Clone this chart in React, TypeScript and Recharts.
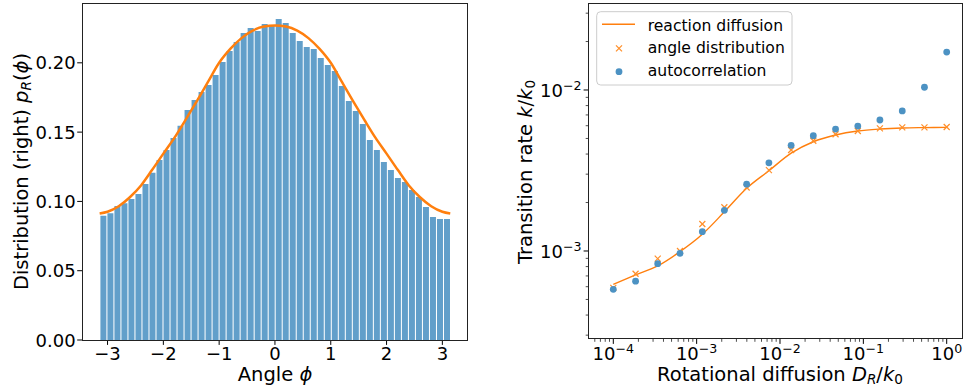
import { ComposedChart, Bar, Line, Scatter, XAxis, YAxis } from "recharts";

const FONT = '"DejaVu Sans", sans-serif';
const BLUE_BAR = "#629fca";
const ORANGE = "#ff7f0e";
const BLUE_DOT = "#4c92c3";

// left panel: histogram of the angle (50 bins over -pi..pi) and the fitted distribution
const binCenters = [
  -3.0788, -2.9531, -2.8274, -2.7018, -2.5761, -2.4504, -2.3248, -2.1991, -2.0735, -1.9478,
  -1.8221, -1.6965, -1.5708, -1.4451, -1.3195, -1.1938, -1.0681, -0.9425, -0.8168, -0.6912,
  -0.5655, -0.4398, -0.3142, -0.1885, -0.0628, 0.0628, 0.1885, 0.3142, 0.4398, 0.5655,
  0.6912, 0.8168, 0.9425, 1.0681, 1.1938, 1.3195, 1.4451, 1.5708, 1.6965, 1.8221,
  1.9478, 2.0735, 2.1991, 2.3248, 2.4504, 2.5761, 2.7018, 2.8274, 2.9531, 3.0788,
];
const binHeights = [
  0.0897, 0.0914, 0.0967, 0.0986, 0.1017, 0.1053, 0.1126, 0.1207, 0.1299, 0.1371,
  0.1457, 0.1546, 0.1659, 0.1732, 0.1789, 0.184, 0.1912, 0.2006, 0.2085, 0.215,
  0.2215, 0.2251, 0.2229, 0.228, 0.227, 0.2316, 0.2287, 0.2215, 0.2157, 0.2114,
  0.21, 0.2035, 0.1984, 0.1941, 0.1833, 0.1724, 0.1652, 0.1558, 0.1443, 0.1371,
  0.1284, 0.1227, 0.1169, 0.114, 0.1082, 0.1032, 0.096, 0.0887, 0.0873, 0.0873,
];
const curvePhi = [
  -3.1416, -3.0, -2.8, -2.6, -2.4, -2.2, -2.0, -1.8, -1.6, -1.4, -1.2, -1.0, -0.8, -0.6, -0.4, -0.2,
  0, 0.2, 0.4, 0.6, 0.8, 1.0, 1.2, 1.4, 1.6, 1.8, 2.0, 2.2, 2.4, 2.6, 2.8, 3.0, 3.1416,
];
const curveP = [
  0.0912, 0.0925, 0.0965, 0.103, 0.1115, 0.1228, 0.1345, 0.146, 0.159, 0.1724, 0.1862, 0.2, 0.21, 0.2178, 0.2232, 0.2262,
  0.227, 0.2262, 0.2232, 0.2178, 0.21, 0.2, 0.1862, 0.1724, 0.159, 0.146, 0.1345, 0.1228, 0.1115, 0.103, 0.0965, 0.0925, 0.0912,
];
const phiTicks = [-3, -2, -1, 0, 1, 2, 3];
const pTicks = [0, 0.05, 0.1, 0.15, 0.2];

// right panel: transition rate against rotational diffusion
const diffusion = [
  1.0e-4, 1.85e-4, 3.41e-4, 6.31e-4, 1.17e-3, 2.15e-3, 3.98e-3, 7.36e-3,
  1.36e-2, 2.51e-2, 4.64e-2, 8.58e-2, 0.158, 0.293, 0.541, 1.0,
];
const reactionDiffusion = [
  6.21e-4, 7.1e-4, 8.07e-4, 9.9e-4, 1.27e-3, 1.75e-3, 2.45e-3, 3.15e-3,
  4.05e-3, 4.77e-3, 5.25e-3, 5.56e-3, 5.72e-3, 5.81e-3, 5.84e-3, 5.86e-3,
];
const angleDistribution = [
  5.9e-4, 7.22e-4, 8.96e-4, 1.0e-3, 1.47e-3, 1.87e-3, 2.48e-3, 3.18e-3,
  4.24e-3, 4.84e-3, 5.31e-3, 5.56e-3, 5.78e-3, 5.86e-3, 5.86e-3, 5.89e-3,
];
const autocorrelation = [
  5.78e-4, 6.49e-4, 8.34e-4, 9.67e-4, 1.318e-3, 1.79e-3, 2.6e-3, 3.53e-3,
  4.53e-3, 5.2e-3, 5.72e-3, 5.97e-3, 6.51e-3, 7.41e-3, 1.04e-2, 1.72e-2,
];
const decadesX = [1e-5, 1e-4, 1e-3, 1e-2, 1e-1, 1];
const decadesY = [1e-4, 1e-3, 1e-2];
const minorMultiples = [2, 3, 4, 5, 6, 7, 8, 9];

const X_DOMAIN: [number, number] = [5.04e-5, 1.556];
const Y_DOMAIN: [number, number] = [2.84e-4, 0.03455];

const histData = binCenters.map((phi, i) => ({ phi, p: binHeights[i] }));
const fitData = curvePhi.map((phi, i) => ({ phi, fit: curveP[i] }));
const rateData = diffusion.map((d, i) => ({
  d,
  rd: reactionDiffusion[i],
  ad: angleDistribution[i],
  ac: autocorrelation[i],
}));

function logTicks(decades: number[], domain: [number, number]) {
  const all: number[] = [];
  decades.forEach((dec) => {
    all.push(dec);
    minorMultiples.forEach((m) => all.push(m * dec));
  });
  return all.filter((v) => v >= domain[0] && v <= domain[1]).sort((a, b) => a - b);
}
const xLogTicks = logTicks(decadesX, X_DOMAIN);
const yLogTicks = logTicks(decadesY, Y_DOMAIN);

function isDecade(v: number) {
  const l = Math.log10(v);
  return Math.abs(l - Math.round(l)) < 1e-6;
}
function expLabel(v: number) {
  const e = Math.round(Math.log10(v));
  return e < 0 ? "\u2212" + Math.abs(e) : String(e);
}
function fmtSigned(v: number) {
  return v < 0 ? "\u2212" + Math.abs(v) : String(v);
}

function PhiTick({ x, y, payload }: any) {
  return (
    <g>
      <line x1={x} x2={x} y1={y} y2={y + 4.9} stroke="#000" strokeWidth={1} />
      <text x={x} y={y + 20} textAnchor="middle" fontSize={18} fontFamily={FONT} fill="#000">
        {fmtSigned(payload.value)}
      </text>
    </g>
  );
}

function PTick({ x, y, payload }: any) {
  return (
    <g>
      <line x1={x - 4.9} x2={x} y1={y} y2={y} stroke="#000" strokeWidth={1} />
      <text x={x - 6.5} y={y + 6.5} textAnchor="end" fontSize={18} fontFamily={FONT} fill="#000">
        {payload.value.toFixed(2)}
      </text>
    </g>
  );
}

function LogXTick({ x, y, payload }: any) {
  const major = isDecade(payload.value);
  return (
    <g>
      <line x1={x} x2={x} y1={y} y2={y + (major ? 4.9 : 2.8)} stroke="#000" strokeWidth={major ? 1 : 0.7} />
      {major && (
        <text x={x} y={y + 21} textAnchor="middle" fontSize={18} fontFamily={FONT} fill="#000">
          10
          <tspan fontSize={12.6} dy={-7}>
            {expLabel(payload.value)}
          </tspan>
        </text>
      )}
    </g>
  );
}

function LogYTick({ x, y, payload }: any) {
  const major = isDecade(payload.value);
  return (
    <g>
      <line x1={x - (major ? 4.9 : 2.8)} x2={x} y1={y} y2={y} stroke="#000" strokeWidth={major ? 1 : 0.7} />
      {major && (
        <text x={x - 7} y={y + 7.5} textAnchor="end" fontSize={18} fontFamily={FONT} fill="#000">
          10
          <tspan fontSize={12.6} dy={-7}>
            {expLabel(payload.value)}
          </tspan>
        </text>
      )}
    </g>
  );
}

function XMark({ cx, cy }: any) {
  if (cx == null || cy == null) return null;
  const s = 3;
  return (
    <g stroke="#ff8f2a" strokeWidth={1.2}>
      <line x1={cx - s} y1={cy - s} x2={cx + s} y2={cy + s} />
      <line x1={cx - s} y1={cy + s} x2={cx + s} y2={cy - s} />
    </g>
  );
}

function Dot({ cx, cy }: any) {
  if (cx == null || cy == null) return null;
  return <circle cx={cx} cy={cy} r={3.4} fill={BLUE_DOT} />;
}

const box = (left: number, top: number, right: number, bottom: number) => ({
  position: "absolute" as const,
  left,
  top,
  width: right - left,
  height: bottom - top,
  border: "1px solid #222",
  boxSizing: "border-box" as const,
  pointerEvents: "none" as const,
});

export default function App() {
  return (
    <div style={{ position: "absolute", left: 0, top: 0, width: 964, height: 385, background: "#fff", overflow: "hidden" }}>
      {/* left: histogram */}
      <div style={{ position: "absolute", left: 0, top: 0 }}>
        <ComposedChart
          width={480}
          height={385}
          data={histData}
          barCategoryGap="10%"
          margin={{ top: 3.5, right: 12.2, bottom: 0, left: 0 }}
        >
          <XAxis
            dataKey="phi"
            type="number"
            domain={[-3.456, 3.456]}
            allowDataOverflow
            ticks={phiTicks}
            interval={0}
            height={45}
            axisLine={false}
            tickLine={false}
            tickSize={0}
            tickMargin={0}
            tick={(p: any) => <PhiTick {...p} />}
          />
          {/* bins: one band per bin, padded so the bins cover -pi..pi on the numeric axis */}
          <XAxis
            xAxisId="bin"
            dataKey="phi"
            type="category"
            hide
            padding={{ left: 17.6, right: 17.5 }}
          />
          <YAxis
            type="number"
            domain={[0, 0.2428]}
            allowDataOverflow
            ticks={pTicks}
            interval={0}
            width={82.1}
            axisLine={false}
            tickLine={false}
            tickSize={0}
            tickMargin={0}
            tick={(p: any) => <PTick {...p} />}
          />
          <Bar xAxisId="bin" dataKey="p" fill={BLUE_BAR} isAnimationActive={false} />
          <Line
            data={fitData}
            dataKey="fit"
            type="monotone"
            stroke={ORANGE}
            strokeWidth={2.5}
            dot={false}
            isAnimationActive={false}
          />
        </ComposedChart>
      </div>
      <div style={box(81.6, 3, 468.3, 340.5)} />

      {/* right: transition rate */}
      <div style={{ position: "absolute", left: 480, top: 0 }}>
        <ComposedChart width={484} height={385} data={rateData} margin={{ top: 3.3, right: 1.3, bottom: 0, left: 0 }}>
          <XAxis
            dataKey="d"
            type="number"
            scale="log"
            domain={X_DOMAIN}
            allowDataOverflow
            ticks={xLogTicks}
            interval={0}
            height={46}
            axisLine={false}
            tickLine={false}
            tickSize={0}
            tickMargin={0}
            tick={(p: any) => <LogXTick {...p} />}
          />
          <YAxis
            type="number"
            scale="log"
            domain={Y_DOMAIN}
            allowDataOverflow
            ticks={yLogTicks}
            interval={0}
            width={108.5}
            axisLine={false}
            tickLine={false}
            tickSize={0}
            tickMargin={0}
            tick={(p: any) => <LogYTick {...p} />}
          />
          <Line dataKey="rd" type="monotone" stroke={ORANGE} strokeWidth={1.4} dot={false} isAnimationActive={false} />
          <Scatter dataKey="ad" shape={(p: any) => <XMark {...p} />} isAnimationActive={false} />
          <Scatter dataKey="ac" shape={(p: any) => <Dot {...p} />} isAnimationActive={false} />
        </ComposedChart>
      </div>
      <div style={box(588, 2.8, 963.2, 339.5)} />

      {/* axis labels and legend */}
      <svg width={964} height={385} style={{ position: "absolute", left: 0, top: 0, pointerEvents: "none" }}>
        <g fontFamily={FONT} fontSize={19.5} fill="#000">
          <text transform="translate(27.5,171.5) rotate(-90)" textAnchor="middle">
            Distribution (right) <tspan fontStyle="italic">p</tspan>
            <tspan fontStyle="italic" fontSize={13.6} dy={3}>R</tspan>
            <tspan dy={-3}>(</tspan>
            <tspan fontStyle="italic">ϕ</tspan>)
          </text>
          <text x={275} y={381} textAnchor="middle">
            Angle <tspan fontStyle="italic">ϕ</tspan>
          </text>
          <text transform="translate(531.5,172) rotate(-90)" textAnchor="middle">
            Transition rate <tspan fontStyle="italic">k</tspan>/<tspan fontStyle="italic">k</tspan>
            <tspan fontSize={13.6} dy={3}>0</tspan>
          </text>
          <text x={780} y={381} textAnchor="middle">
            Rotational diffusion <tspan fontStyle="italic">D</tspan>
            <tspan fontStyle="italic" fontSize={13.6} dy={2.5}>R</tspan>
            <tspan dy={-2.5}>/</tspan>
            <tspan fontStyle="italic">k</tspan>
            <tspan fontSize={13.6} dy={2.5}>0</tspan>
          </text>
        </g>
        <g fontFamily={FONT} fontSize={15.6} fill="#000">
          <rect x={596.7} y={11.7} width={195.3} height={73.3} rx={4} fill="#fff" fillOpacity={0.8} stroke="#cccccc" />
          <line x1={602} x2={635} y1={24.3} y2={24.3} stroke={ORANGE} strokeWidth={1.4} />
          <text x={647.7} y={30.7}>reaction diffusion</text>
          <XMark cx={619} cy={48.3} />
          <text x={647.7} y={53.4}>angle distribution</text>
          <Dot cx={619} cy={71.7} />
          <text x={647.7} y={76.1}>autocorrelation</text>
        </g>
      </svg>
    </div>
  );
}
